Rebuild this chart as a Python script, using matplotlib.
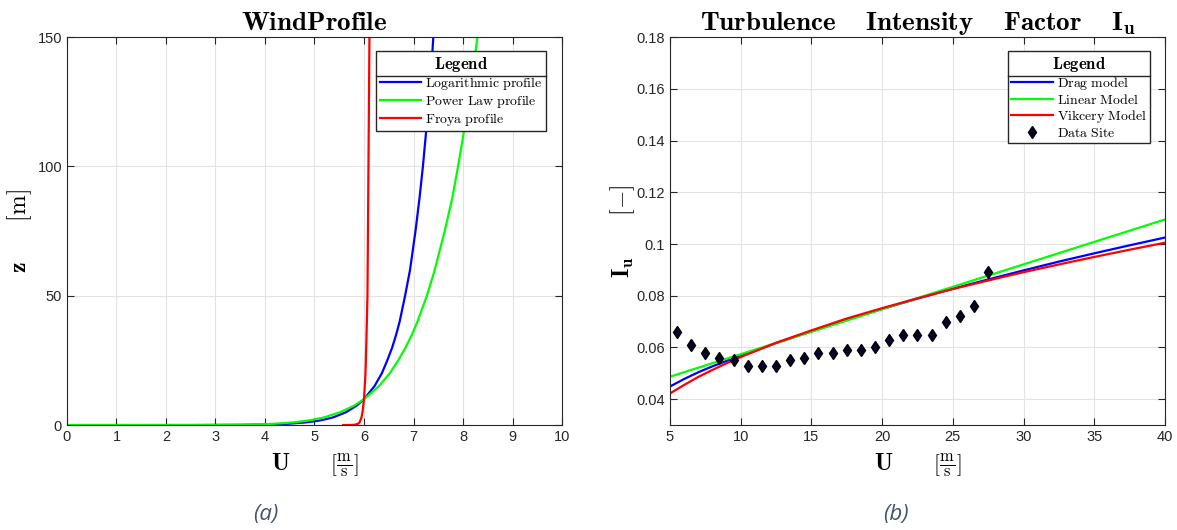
import numpy as np
import matplotlib.pyplot as plt
from matplotlib.lines import Line2D
from matplotlib.ticker import FormatStrFormatter

plt.rcParams['mathtext.fontset'] = 'cm'
plt.rcParams['font.family'] = ['Liberation Sans', 'DejaVu Sans']

# ---- data: wind profile (z in m, U in m/s) ----
z_log = [1e-4, 1e-3, 0.01, 0.1, 0.25, 0.5, 1, 1.5, 2, 3, 5, 7.5, 10, 15, 20, 25, 30, 35,
         40, 50, 60, 75, 87.5, 100, 112.5, 125, 137.5, 150]
u_log = [0.05, 1.24, 2.43, 3.62, 4.09, 4.45, 4.81, 5.02, 5.17, 5.38, 5.64, 5.85, 6.00, 6.21,
         6.36, 6.47, 6.57, 6.65, 6.72, 6.83, 6.93, 7.04, 7.12, 7.19, 7.25, 7.31, 7.36, 7.40]

z_pow = [0, 1e-6, 1e-4, 1e-3, 0.01, 0.1, 0.25, 0.5, 1, 1.5, 2, 3, 5, 7.5, 10, 15, 20, 25,
         30, 35, 40, 50, 60, 75, 87.5, 100, 112.5, 125, 137.5, 150]
u_pow = [0.0, 0.87, 1.52, 2.00, 2.63, 3.46, 3.86, 4.19, 4.56, 4.78, 4.95, 5.20, 5.52, 5.80,
         6.00, 6.30, 6.52, 6.69, 6.84, 6.97, 7.08, 7.27, 7.43, 7.63, 7.78, 7.90, 8.01, 8.11,
         8.21, 8.29]

z_froya = [3.4e-4, 1e-3, 0.01, 0.1, 0.5, 1, 2, 3, 5, 10, 20, 30, 50, 75, 100, 150]
u_froya = [5.58, 5.63, 5.72, 5.81, 5.88, 5.91, 5.93, 5.95, 5.97, 6.00, 6.03, 6.045, 6.07,
           6.08, 6.09, 6.11]

# ---- data: turbulence intensity ----
u_model = [5, 6, 7, 8, 9, 10, 12.5, 15, 17.5, 20, 22.5, 25, 27.5, 30, 32.5, 35, 37.5, 40]
iu_drag = [0.0449, 0.0478, 0.0504, 0.0527, 0.0548, 0.0567, 0.0617, 0.0662, 0.0707, 0.0749,
           0.0789, 0.0827, 0.0863, 0.0898, 0.0932, 0.0964, 0.0995, 0.1025]
iu_vick = [0.0422, 0.0455, 0.0486, 0.0513, 0.0539, 0.0563, 0.0618, 0.0666, 0.0712, 0.0752,
           0.0790, 0.0826, 0.0859, 0.0891, 0.0921, 0.0950, 0.0978, 0.1005]
u_lin = [5, 40]
iu_lin = [0.0487, 0.1095]

u_site = [5.5, 6.5, 7.5, 8.5, 9.5, 10.5, 11.5, 12.5, 13.5, 14.5, 15.5, 16.5,
          17.5, 18.5, 19.5, 20.5, 21.5, 22.5, 23.5, 24.5, 25.5, 26.5, 27.5]
iu_site = [0.066, 0.061, 0.058, 0.056, 0.055, 0.053, 0.053, 0.053, 0.055, 0.056, 0.058, 0.058,
           0.059, 0.059, 0.060, 0.063, 0.065, 0.065, 0.065, 0.070, 0.072, 0.076, 0.089]

fig = plt.figure(figsize=(11.77, 5.30), dpi=100)
ax1 = fig.add_axes([0.0569, 0.198, 0.4206, 0.732])
ax2 = fig.add_axes([0.5692, 0.198, 0.4206, 0.732])

lw = 1.6
ax1.plot(u_log, z_log, color='#0000ff', lw=lw, label=r'$\mathrm{Logarithmic\ profile}$')
ax1.plot(u_pow, z_pow, color='#00ff00', lw=lw, label=r'$\mathrm{Power\ Law\ profile}$')
ax1.plot(u_froya, z_froya, color='#ff0000', lw=lw, label=r'$\mathrm{Froya\ profile}$')
ax1.set_xlim(0, 10)
ax1.set_ylim(0, 150)
ax1.set_xticks(range(0, 11))
ax1.set_yticks([0, 50, 100, 150])
ax1.set_title(r'$\mathbf{WindProfile}$', fontsize=19.5, pad=5)

ax2.plot(u_model, iu_drag, color='#0000ff', lw=lw, label=r'$\mathrm{Drag\ model}$')
ax2.plot(u_lin, iu_lin, color='#00ff00', lw=lw, label=r'$\mathrm{Linear\ Model}$')
ax2.plot(u_model, iu_vick, color='#ff0000', lw=lw, label=r'$\mathrm{Vikcery\ Model}$')
ax2.plot(u_site, iu_site, 'd', color='k', markerfacecolor='#05052a', markersize=6,
         linestyle='none', label=r'$\mathrm{Data\ Site}$')
ax2.set_xlim(5, 40)
ax2.set_ylim(0.03, 0.18)
ax2.set_xticks(range(5, 41, 5))
ax2.set_yticks(np.arange(0.04, 0.181, 0.02))
ax2.yaxis.set_major_formatter(FormatStrFormatter('%g'))
ax2.set_title(r'$\mathbf{Turbulence\quad\; Intensity\quad\; Factor\quad\; I_u}$',
              fontsize=19.5, pad=5)

xlab = r'$\mathbf{U}\qquad\left[\frac{\mathrm{m}}{\mathrm{s}}\right]$'
ax1.set_xlabel(xlab, fontsize=17)
ax2.set_xlabel(xlab, fontsize=17)
ax1.set_ylabel(r'$\mathbf{z}\qquad[\mathrm{m}]$', fontsize=17)
ax2.set_ylabel(r'$\mathbf{I_u}\qquad[-]$', fontsize=17)
ax1.xaxis.set_label_coords(0.5, -0.068)
ax2.xaxis.set_label_coords(0.5, -0.068)
ax1.yaxis.set_label_coords(-0.067, 0.5)
ax2.yaxis.set_label_coords(-0.066, 0.5)

legs = []
for ax, anchor in [(ax1, (0.968, 0.964)), (ax2, (0.970, 0.964))]:
    ax.grid(True, color='#e3e3e3', lw=0.8)
    ax.set_axisbelow(True)
    ax.tick_params(direction='in', top=True, right=True, length=5, width=0.8,
                   labelsize=10.5, labelcolor='#262626', color='#262626')
    for s in ax.spines.values():
        s.set_color('#262626')
        s.set_linewidth(0.8)
    leg = ax.legend(loc='upper right', bbox_to_anchor=anchor, fontsize=10,
                    title=r'$\mathbf{Legend}$', title_fontsize=12, fancybox=False,
                    framealpha=1, edgecolor='#262626', borderpad=0.25,
                    handlelength=3.0, handletextpad=0.3, labelspacing=0.08,
                    borderaxespad=0)
    leg.get_frame().set_linewidth(1.0)
    legs.append(leg)

fig.text(0.226, 0.018, '(a)', fontsize=16, style='italic', color='#44546A',
         family=['Open Sans', 'DejaVu Sans'], ha='center')
fig.text(0.761, 0.018, '(b)', fontsize=16, style='italic', color='#44546A',
         family=['Open Sans', 'DejaVu Sans'], ha='center')

# separator line under the legend title
fig.canvas.draw()
renderer = fig.canvas.get_renderer()
inv = fig.transFigure.inverted()
for leg in legs:
    tb = leg.get_title().get_window_extent(renderer)
    fb = leg.get_frame().get_window_extent(renderer)
    y = tb.y0 - 2
    (x0, y0), (x1, _) = inv.transform([(fb.x0, y), (fb.x1, y)])
    fig.add_artist(Line2D([x0, x1], [y0, y0], color='#262626', lw=1.0,
                          transform=fig.transFigure, zorder=10))

fig.savefig('out.png', dpi=100)
